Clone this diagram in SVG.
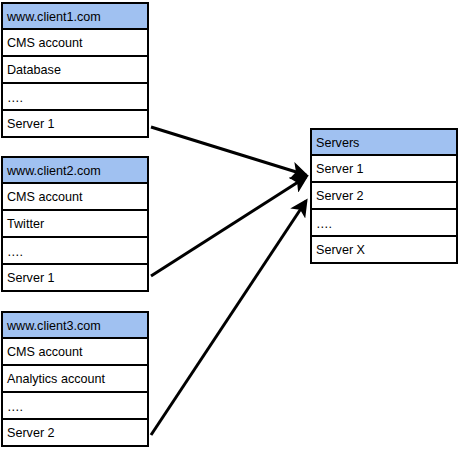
<svg xmlns="http://www.w3.org/2000/svg" width="460" height="449" viewBox="0 0 460 449">
<style>
.box{fill:#ffffff;stroke:#000;stroke-width:2}
.hdr{fill:#a0c1f1;stroke:#000;stroke-width:2}
text{font-family:"Liberation Sans",Arial,sans-serif;font-size:12.6px;fill:#000}
.conn{stroke:#000;stroke-width:3;fill:none;marker-end:url(#ah)}
</style>
<defs>
<marker id="ah" viewBox="0 0 12 12" refX="10" refY="6" markerWidth="6" markerHeight="6" orient="auto" markerUnits="strokeWidth">
<path d="M0,0 L12,6 L0,12 L3,6 Z" fill="#000"/>
</marker>
</defs>
<g id="client1">
<rect class="hdr" x="2" y="3" width="146" height="26"/>
<rect class="box" x="2" y="29" width="146" height="27"/>
<rect class="box" x="2" y="56" width="146" height="27"/>
<rect class="box" x="2" y="83" width="146" height="27"/>
<rect class="box" x="2" y="110" width="146" height="27"/>
<text x="7" y="21">www.client1.com</text>
<text x="7" y="47">CMS account</text>
<text x="7" y="74">Database</text>
<text x="7" y="102">….</text>
<text x="7" y="128">Server 1</text>
</g>
<g id="client2">
<rect class="hdr" x="2" y="157" width="146" height="26"/>
<rect class="box" x="2" y="183" width="146" height="27"/>
<rect class="box" x="2" y="210" width="146" height="27"/>
<rect class="box" x="2" y="237" width="146" height="27"/>
<rect class="box" x="2" y="264" width="146" height="27"/>
<text x="7" y="175">www.client2.com</text>
<text x="7" y="201">CMS account</text>
<text x="7" y="228">Twitter</text>
<text x="7" y="256">….</text>
<text x="7" y="282">Server 1</text>
</g>
<g id="client3">
<rect class="hdr" x="2" y="312" width="146" height="26"/>
<rect class="box" x="2" y="338" width="146" height="27"/>
<rect class="box" x="2" y="365" width="146" height="27"/>
<rect class="box" x="2" y="392" width="146" height="27"/>
<rect class="box" x="2" y="419" width="146" height="27"/>
<text x="7" y="330">www.client3.com</text>
<text x="7" y="356">CMS account</text>
<text x="7" y="383">Analytics account</text>
<text x="7" y="411">….</text>
<text x="7" y="437">Server 2</text>
</g>
<g id="servers">
<rect class="hdr" x="311" y="129" width="146" height="26"/>
<rect class="box" x="311" y="155" width="146" height="27"/>
<rect class="box" x="311" y="182" width="146" height="27"/>
<rect class="box" x="311" y="209" width="146" height="27"/>
<rect class="box" x="311" y="236" width="146" height="27"/>
<text x="316" y="147">Servers</text>
<text x="316" y="173">Server 1</text>
<text x="316" y="200">Server 2</text>
<text x="316" y="228">….</text>
<text x="316" y="254">Server X</text>
</g>
<g id="connectors">
<line class="conn" x1="151" y1="127" x2="306" y2="175"/>
<line class="conn" x1="151" y1="276" x2="306" y2="177"/>
<line class="conn" x1="151" y1="435" x2="306" y2="201"/>
</g>
</svg>
